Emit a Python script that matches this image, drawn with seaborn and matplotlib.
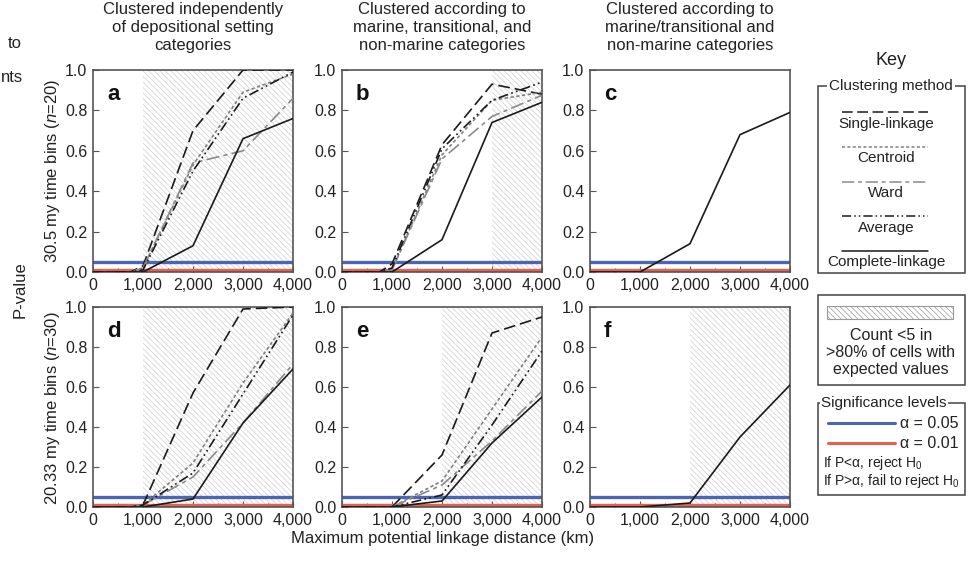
import numpy as np
import pandas as pd
import matplotlib.pyplot as plt
import seaborn as sns
from matplotlib.patches import Rectangle
from matplotlib.ticker import MultipleLocator, FuncFormatter

sns.set_theme(style='ticks')
plt.rcParams['font.family'] = ['Liberation Sans', 'DejaVu Sans']
plt.rcParams['mathtext.fontset'] = 'custom'
plt.rcParams['mathtext.rm'] = 'Liberation Sans'
plt.rcParams['mathtext.it'] = 'Liberation Sans:italic'
plt.rcParams['hatch.linewidth'] = 0.5
plt.rcParams['hatch.color'] = '#cfcfcf'

# 最大连接距离 (km)
distance = [0, 500, 750, 1000, 2000, 3000, 4000]

# a: 30.5 my, 独立聚类
a_single = [0, 0, 0, 0.03, 0.70, 1.00, 1.00]
a_centroid = [0, 0, 0, 0.02, 0.53, 0.89, 0.98]
a_ward = [0, 0, 0, 0.02, 0.54, 0.60, 0.86]
a_average = [0, 0, 0, 0.01, 0.50, 0.86, 0.99]
a_complete = [0, 0, 0, 0.00, 0.13, 0.66, 0.76]

# b: 30.5 my, marine / transitional / non-marine
b_single = [0, 0, 0, 0.04, 0.63, 0.93, 0.88]
b_centroid = [0, 0, 0, 0.01, 0.58, 0.85, 0.89]
b_ward = [0, 0, 0, 0.01, 0.56, 0.77, 0.875]
b_average = [0, 0, 0, 0.02, 0.61, 0.85, 0.94]
b_complete = [0, 0, 0, 0.00, 0.16, 0.74, 0.84]

# c: 30.5 my, marine/transitional vs non-marine
c_complete = [0, 0, 0, 0.00, 0.14, 0.68, 0.79]

# d: 20.33 my, 独立聚类
d_single = [0, 0, 0, 0.01, 0.57, 0.99, 1.00]
d_centroid = [0, 0, 0, 0.01, 0.22, 0.62, 0.97]
d_ward = [0, 0, 0, 0.01, 0.15, 0.42, 0.715]
d_average = [0, 0, 0, 0.01, 0.17, 0.565, 0.96]
d_complete = [0, 0, 0, 0.00, 0.04, 0.42, 0.69]

# e: 20.33 my, marine / transitional / non-marine
e_single = [0, 0, 0, 0.00, 0.26, 0.87, 0.95]
e_centroid = [0, 0, 0, 0.00, 0.13, 0.49, 0.85]
e_ward = [0, 0, 0, 0.00, 0.11, 0.33, 0.58]
e_average = [0, 0, 0, 0.00, 0.06, 0.41, 0.78]
e_complete = [0, 0, 0, 0.00, 0.03, 0.32, 0.55]

# f: 20.33 my, marine/transitional vs non-marine
f_complete = [0, 0, 0, 0.00, 0.02, 0.35, 0.61]

# 阴影区间 (count <5 in >80% of cells)
hatch_start = {'a': 1000, 'b': 3000, 'c': None, 'd': 1000, 'e': 2000, 'f': 2000}

alpha_levels = [0.05, 0.01]
alpha_colors = ['#4b66b1', '#e8604c']

methods = ['Single-linkage', 'Centroid', 'Ward', 'Average', 'Complete-linkage']
styles = {
    'Single-linkage': dict(color='#1a1a1a', ls=(0, (7, 3))),
    'Centroid': dict(color='#808080', ls=(0, (2, 1.5))),
    'Ward': dict(color='#8a8a8a', ls=(0, (8, 2.5, 2.5, 2.5))),
    'Average': dict(color='#1a1a1a', ls=(0, (6, 2, 1, 2, 1, 2))),
    'Complete-linkage': dict(color='#1a1a1a', ls='-'),
}

panels = {
    'a': [a_single, a_centroid, a_ward, a_average, a_complete],
    'b': [b_single, b_centroid, b_ward, b_average, b_complete],
    'c': [None, None, None, None, c_complete],
    'd': [d_single, d_centroid, d_ward, d_average, d_complete],
    'e': [e_single, e_centroid, e_ward, e_average, e_complete],
    'f': [None, None, None, None, f_complete],
}

W, H = 971, 561
fig = plt.figure(figsize=(W / 100, H / 100), dpi=100)

lefts = [93, 342, 590]
rows = [(70, 272), (307, 507)]
spine_col = '#555555'
hatch_pat = '\\' * 6

for idx, key in enumerate(['a', 'b', 'c', 'd', 'e', 'f']):
    r, c = divmod(idx, 3)
    top, bot = rows[r]
    ax = fig.add_axes([lefts[c] / W, (H - bot) / H, 200 / W, (bot - top) / H])
    if hatch_start[key] is not None:
        ax.axvspan(hatch_start[key], 4000, facecolor='none', edgecolor='#cfcfcf',
                   hatch=hatch_pat, linewidth=0, zorder=0)
    for lv, col in zip(alpha_levels, alpha_colors):
        ax.axhline(lv, color=col, lw=2.4, zorder=1)
    for m, vals in zip(methods, panels[key]):
        if vals is None:
            continue
        sns.lineplot(x=distance, y=vals, ax=ax, color=styles[m]['color'],
                     linestyle=styles[m]['ls'], linewidth=1.2, zorder=3)
    ax.set_xlim(0, 4000)
    ax.set_ylim(0, 1.0)
    ax.xaxis.set_major_locator(MultipleLocator(1000))
    ax.xaxis.set_minor_locator(MultipleLocator(500))
    ax.yaxis.set_major_locator(MultipleLocator(0.2))
    ax.xaxis.set_major_formatter(FuncFormatter(lambda v, p: f'{int(v):,}'))
    ax.yaxis.set_major_formatter(FuncFormatter(lambda v, p: f'{v:.1f}'))
    ax.tick_params(direction='in', length=4, width=0.8, labelsize=11.5,
                   colors=spine_col, labelcolor='#222222', pad=4)
    ax.tick_params(which='minor', direction='in', length=3, width=0.8, colors=spine_col)
    for s in ax.spines.values():
        s.set_color(spine_col)
        s.set_linewidth(1.2)
    ax.set_facecolor('white')
    ax.text(0.07, 0.93, key, transform=ax.transAxes, fontsize=16, fontweight='bold',
            va='top', ha='left', color='#111111')

# 列标题
col_titles = ['Clustered independently\nof depositional setting\ncategories',
              'Clustered according to\nmarine, transitional, and\nnon-marine categories',
              'Clustered according to\nmarine/transitional and\nnon-marine categories']
for c, t in enumerate(col_titles):
    fig.text((lefts[c] + 100) / W, 1 - 2 / H, t, ha='center', va='top',
             fontsize=12, linespacing=1.25, color='#222222')

fig.text(52 / W, 1 - 171 / H, r'30.5 my time bins ($\mathit{n}$=20)', rotation=90,
         ha='center', va='center', fontsize=12, color='#222222')
fig.text(52 / W, 1 - 408 / H, r'20.33 my time bins ($\mathit{n}$=30)', rotation=90,
         ha='center', va='center', fontsize=12, color='#222222')
fig.text(20 / W, 1 - 290 / H, 'P-value', rotation=90, ha='center', va='center',
         fontsize=12, color='#222222')
fig.text(443 / W, 1 - 538 / H, 'Maximum potential linkage distance (km)', ha='center',
         va='center', fontsize=12, color='#222222')
# 左侧被裁掉的文字残留
fig.text(8 / W, 1 - 43 / H, 'to', ha='left', va='center', fontsize=12, color='#222222')
fig.text(1 / W, 1 - 78 / H, 'nts', ha='left', va='center', fontsize=12, color='#222222')

# 图例区域 (像素坐标)
kx = fig.add_axes([0, 0, 1, 1], zorder=-1)
kx.set_xlim(0, W)
kx.set_ylim(H, 0)
kx.axis('off')
kx.patch.set_alpha(0)

kx.text(891, 60, 'Key', ha='center', va='center', fontsize=13, color='#222222')
kx.add_patch(Rectangle((818, 86), 147, 187, fill=False, ec='#444444', lw=1.1))
kx.text(891, 86, 'Clustering method', ha='center', va='center', fontsize=11,
        color='#222222', bbox=dict(facecolor='white', edgecolor='none', pad=1.5))
line_y = [112, 147, 182, 216, 251]
label_y = [124, 158, 193, 228, 262]
for m, ly, ty in zip(methods, line_y, label_y):
    kx.plot([842, 928], [ly, ly], color=styles[m]['color'], ls=styles[m]['ls'], lw=1.1)
    kx.text(886, ty, m, ha='center', va='center', fontsize=11, color='#222222')

kx.add_patch(Rectangle((818, 295), 147, 90, fill=False, ec='#444444', lw=1.1))
kx.add_patch(Rectangle((827, 306), 126, 13, facecolor='white', ec='#999999', lw=0.8,
                       hatch=hatch_pat))
for ty, t in zip([335, 352, 369], ['Count <5 in', '>80% of cells with', 'expected values']):
    kx.text(891, ty, t, ha='center', va='center', fontsize=11.5, color='#222222')

kx.add_patch(Rectangle((818, 403), 147, 92, fill=False, ec='#444444', lw=1.1))
kx.text(821, 403, 'Significance levels', ha='left', va='center', fontsize=11,
        color='#222222', bbox=dict(facecolor='white', edgecolor='none', pad=1))
for ly, lv, col in zip([423, 443], alpha_levels, alpha_colors):
    kx.plot([828, 895], [ly, ly], color=col, lw=2.2)
    kx.text(958, ly, f'α = {lv}', ha='right', va='center', fontsize=11.5, color='#222222')
kx.text(823, 463, r'If P<α, reject $\mathregular{H_0}$', ha='left', va='center',
        fontsize=10, color='#222222')
kx.text(823, 481, r'If P>α, fail to reject $\mathregular{H_0}$', ha='left', va='center',
        fontsize=10, color='#222222')

fig.savefig('out.png', dpi=100, facecolor='white')
